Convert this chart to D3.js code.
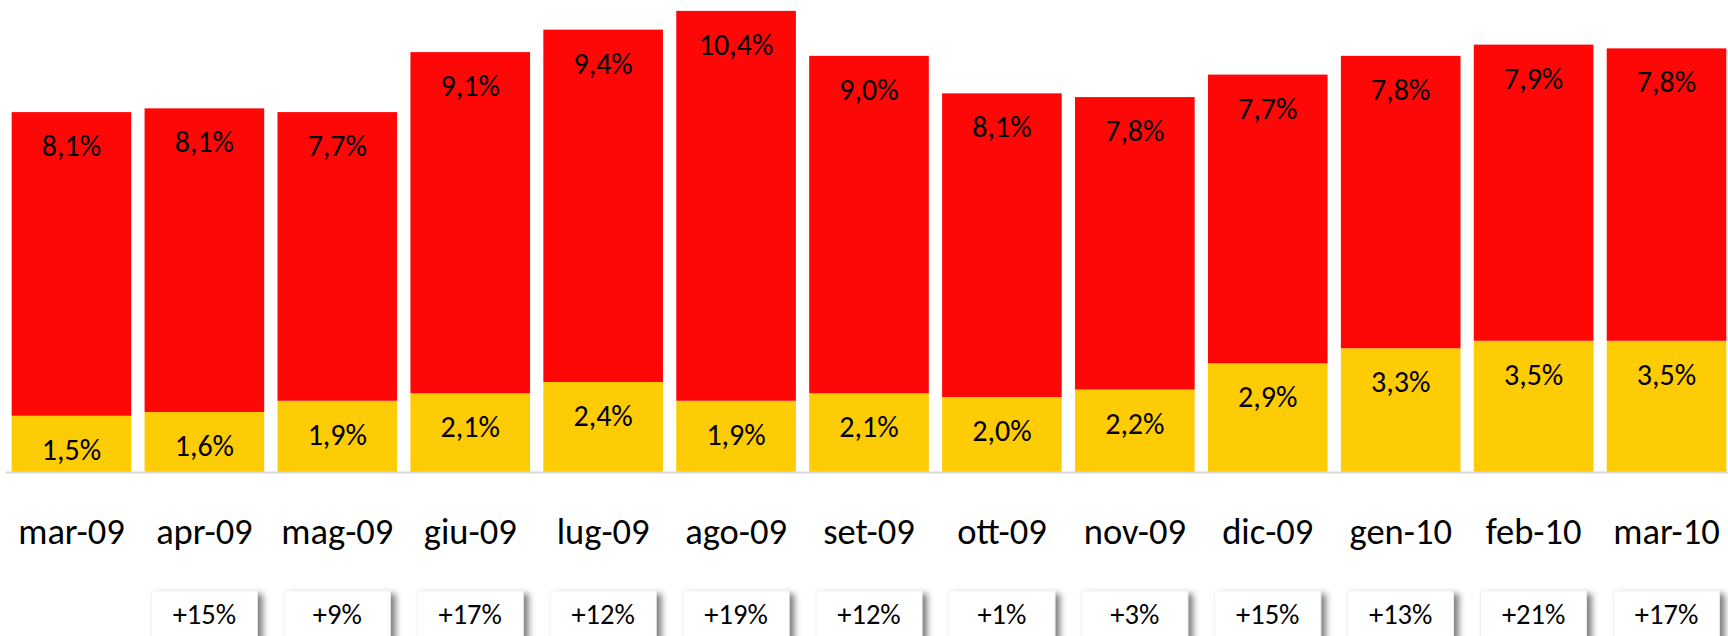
<!DOCTYPE html>
<html>
<head>
<meta charset="utf-8">
<script src="https://cdn.jsdelivr.net/npm/d3@7"></script>
<style>
  html, body { margin: 0; padding: 0; background: #fff; }
  svg { display: block; }
</style>
</head>
<body>
<svg id="chart" width="1728" height="636"></svg>
<script>
const months = ["mar-09","apr-09","mag-09","giu-09","lug-09","ago-09","set-09","ott-09","nov-09","dic-09","gen-10","feb-10","mar-10"];
const yellowValues = [1.5, 1.6, 1.9, 2.1, 2.4, 1.9, 2.1, 2.0, 2.2, 2.9, 3.3, 3.5, 3.5];
const redValues = [8.1, 8.1, 7.7, 9.1, 9.4, 10.4, 9.0, 8.1, 7.8, 7.7, 7.8, 7.9, 7.8];
const growthLabels = ["", "+15%", "+9%", "+17%", "+12%", "+19%", "+12%", "+1%", "+3%", "+15%", "+13%", "+21%", "+17%"];

const W = 1728, H = 636;
const svg = d3.select("#chart");
svg.append("rect").attr("width", W).attr("height", H).attr("fill", "#fff");

const defs = svg.append("defs");
const f = defs.append("filter").attr("id", "shadow")
  .attr("x", "-20%").attr("y", "-20%").attr("width", "150%").attr("height", "160%");
f.append("feDropShadow").attr("dx", 5).attr("dy", 3).attr("stdDeviation", 3)
  .attr("flood-color", "#000").attr("flood-opacity", 0.5);

const x = d3.scaleBand().domain(months).range([5, 1733]).paddingInner(0.1).paddingOuter(0.05);
const y = d3.scaleLinear().domain([0, 12.59]).range([472, 0]);

const rows = months.map((m, i) => ({ month: m, yellow: yellowValues[i], red: redValues[i] }));
const stack = d3.stack().keys(["yellow", "red"]);
const series = stack(rows);
const colors = { yellow: "#FDCC05", red: "#FF0707" };

const fmt = v => v.toFixed(1).replace(".", ",") + "%";
const font = "Carlito, Calibri, Lato, 'Open Sans', sans-serif";

const g = svg.append("g");
series.forEach(s => {
  const layer = g.append("g");
  layer.selectAll("rect").data(s).join("rect")
    .attr("x", d => x(d.data.month))
    .attr("width", x.bandwidth())
    .attr("y", d => y(d[1]))
    .attr("height", d => y(d[0]) - y(d[1]))
    .attr("fill", colors[s.key]);
  layer.selectAll("text").data(s).join("text")
    .attr("x", d => x(d.data.month) + x.bandwidth() / 2)
    .attr("y", d => y(d[1]) + 44)
    .attr("text-anchor", "middle")
    .attr("font-family", font)
    .attr("font-size", 30)
    .attr("fill", "#000")
    .text(d => fmt(d.data[s.key]));
});

const axis = svg.append("g").attr("transform", `translate(0,${y(0)})`)
  .call(d3.axisBottom(x).tickSize(0).tickSizeOuter(0).tickPadding(46));
axis.select(".domain").attr("stroke", "#d9d9d9").attr("stroke-width", 2);
axis.selectAll("text").attr("font-family", font).attr("font-size", 36.5).attr("fill", "#000");

const boxes = svg.append("g");
const boxData = months.map((m, i) => ({ month: m, label: growthLabels[i] })).filter(d => d.label !== "");
boxes.selectAll("rect").data(boxData).join("rect")
  .attr("x", d => x(d.month) + x.bandwidth() / 2 - 53)
  .attr("y", 591)
  .attr("width", 106)
  .attr("height", 70)
  .attr("fill", "#fff")
  .attr("stroke", "#ececec")
  .attr("stroke-width", 0.6)
  .attr("filter", "url(#shadow)");
boxes.selectAll("text").data(boxData).join("text")
  .attr("x", d => x(d.month) + x.bandwidth() / 2)
  .attr("y", 624)
  .attr("text-anchor", "middle")
  .attr("font-family", font)
  .attr("font-size", 28.5)
  .attr("fill", "#000")
  .text(d => d.label);
</script>
</body>
</html>
